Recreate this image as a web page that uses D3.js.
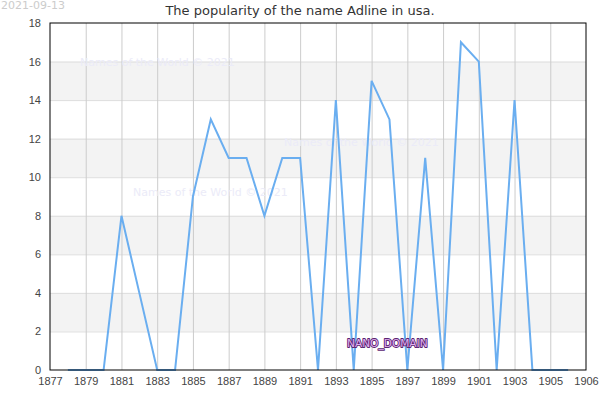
<!DOCTYPE html>
<html>
<head>
<meta charset="utf-8">
<script src="https://cdn.jsdelivr.net/npm/d3@7"></script>
<style>
    body { margin: 0; background: #fff; }
    svg { font-family: "DejaVu Sans", sans-serif; }
    .tick-label { font-size: 11px; fill: #444; }
    .title { font-size: 13px; fill: #333; }
    .stamp { font-size: 11px; fill: #ccc; }
    .watermark { font-size: 11px; fill: #ebebf8; }
    .nano { font-size: 10.6px; fill: #e0b2f0; stroke: #5a2470; stroke-width: 1.8; paint-order: stroke; stroke-linejoin: round; }
</style>
</head>
<body>
<div id="chart"></div>
<script>
// Chart size
let width = 600;
let height = 400;

// The dataset: yearly counts of the name
let years = [1878, 1879, 1880, 1881, 1882, 1883, 1884, 1885, 1886, 1887,
    1888, 1889, 1890, 1891, 1892, 1893, 1894, 1895, 1896, 1897,
    1898, 1899, 1900, 1901, 1902, 1903, 1904, 1905, 1906];
let counts = [0, 0, 0, 8, 4, 0, 0, 9, 13, 11,
    11, 8, 11, 11, 0, 14, 0, 15, 13, 0,
    11, 0, 17, 16, 0, 14, 0, 0, 0];

// Axis ticks
let xTickValues = [1877, 1879, 1881, 1883, 1885, 1887, 1889, 1891, 1893, 1895,
    1897, 1899, 1901, 1903, 1905, 1907];
let xTickLabels = ["1877", "1879", "1881", "1883", "1885", "1887", "1889", "1891", "1893", "1895",
    "1897", "1899", "1901", "1903", "1905", "1906"];
let yTickValues = [0, 2, 4, 6, 8, 10, 12, 14, 16, 18];

// Text
let titleText = "The popularity of the name Adline in usa.";
let dateText = "2021-09-13";
let watermarkText = "Names of the World \u00a9 2021";

let plot = { left: 50, right: 586, top: 23, bottom: 370 };

let xScale = d3.scaleLinear()
    .domain([1877, 1907])
    .range([plot.left, plot.right]);

let yScale = d3.scaleLinear()
    .domain([0, 18])
    .range([plot.bottom, plot.top]);

let svg = d3.select("#chart")
    .append("svg")
    .attr("width", width)
    .attr("height", height);

// Alternating bands (2-4, 6-8, 10-12, 14-16)
let bands = yTickValues.filter(function (v, i) { return i % 2 === 1 && v < 18; });
svg.selectAll(".band")
    .data(bands)
    .enter()
    .append("rect")
    .attr("class", "band")
    .attr("x", plot.left)
    .attr("width", plot.right - plot.left)
    .attr("y", function (d) { return yScale(d + 2); })
    .attr("height", function (d) { return yScale(d) - yScale(d + 2); })
    .attr("fill", "#f3f3f3");

// Horizontal grid
svg.append("g")
    .attr("transform", "translate(" + plot.left + ",0)")
    .call(d3.axisLeft(yScale)
        .tickValues(yTickValues.slice(1, -1))
        .tickSize(-(plot.right - plot.left))
        .tickFormat(""))
    .call(function (g) {
        g.select(".domain").remove();
        g.selectAll("line").attr("stroke", "#dddddd");
    });

// Vertical grid
svg.append("g")
    .attr("transform", "translate(0," + plot.bottom + ")")
    .call(d3.axisBottom(xScale)
        .tickValues(xTickValues.slice(1, -1))
        .tickSize(-(plot.bottom - plot.top))
        .tickFormat(""))
    .call(function (g) {
        g.select(".domain").remove();
        g.selectAll("line").attr("stroke", "#cccccc");
    });

// Watermarks
let watermarks = [[80, 66], [133, 196], [284, 146]];
svg.selectAll(".watermark")
    .data(watermarks)
    .enter()
    .append("text")
    .attr("class", "watermark")
    .attr("x", function (d) { return d[0]; })
    .attr("y", function (d) { return d[1]; })
    .text(watermarkText);

// The line
let line = d3.line()
    .x(function (d, i) { return xScale(years[i]); })
    .y(function (d) { return yScale(d); });

svg.append("path")
    .datum(counts)
    .attr("fill", "none")
    .attr("stroke", "#6aaef0")
    .attr("stroke-width", 2)
    .attr("d", line);

// Plot border
svg.append("rect")
    .attr("x", plot.left)
    .attr("y", plot.top)
    .attr("width", plot.right - plot.left)
    .attr("height", plot.bottom - plot.top)
    .attr("fill", "none")
    .attr("stroke", "#000")
    .attr("stroke-width", 1);

// Axes labels
let xAxis = svg.append("g")
    .attr("transform", "translate(0," + plot.bottom + ")")
    .call(d3.axisBottom(xScale)
        .tickValues(xTickValues)
        .tickSize(0)
        .tickPadding(7)
        .tickFormat(function (d, i) { return xTickLabels[i]; }));
xAxis.select(".domain").remove();
xAxis.selectAll("text")
    .attr("class", "tick-label")
    .attr("fill", null)
    .attr("font-family", null)
    .attr("font-size", null);

let yAxis = svg.append("g")
    .attr("transform", "translate(" + plot.left + ",0)")
    .call(d3.axisLeft(yScale)
        .tickValues(yTickValues)
        .tickSize(0)
        .tickPadding(9));
yAxis.select(".domain").remove();
yAxis.selectAll("text")
    .attr("class", "tick-label")
    .attr("fill", null)
    .attr("font-family", null)
    .attr("font-size", null);

// Title and date
svg.append("text")
    .attr("class", "title")
    .attr("x", width / 2)
    .attr("y", 15)
    .attr("text-anchor", "middle")
    .text(titleText);

svg.append("text")
    .attr("class", "stamp")
    .attr("x", 1)
    .attr("y", 9)
    .text(dateText);

// Domain stamp
svg.append("text")
    .attr("class", "nano")
    .attr("x", 347)
    .attr("y", 347)
    .text("NANO_DOMAIN");
</script>
</body>
</html>
